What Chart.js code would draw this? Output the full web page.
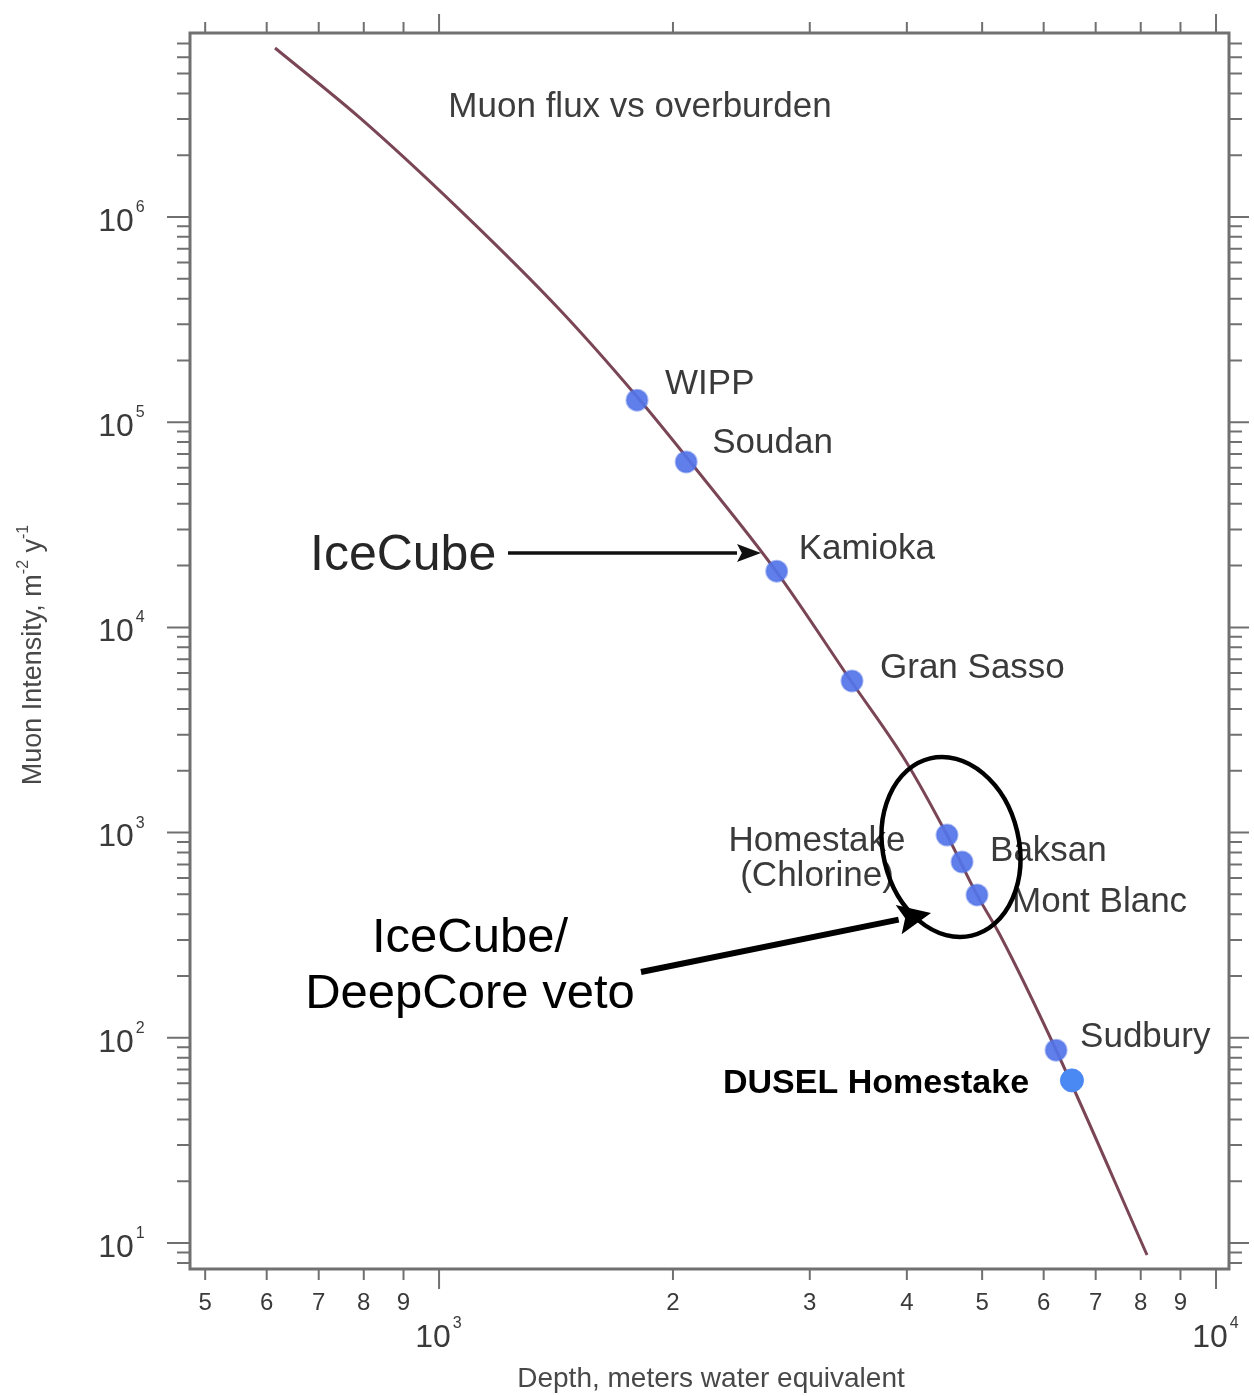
<!DOCTYPE html>
<html>
<head>
<meta charset="utf-8">
<script src="https://cdn.jsdelivr.net/npm/chart.js@4.4.1/dist/chart.umd.min.js"></script>
<style>
  body { margin: 0; background: #fff; }
  #wrap { width: 1254px; height: 1396px; }
</style>
</head>
<body>
<div id="wrap"><canvas id="chart" width="1254" height="1396"></canvas></div>
<script>
// Data (depth in m.w.e., flux in m^-2 y^-1)
const curveDepth = [615, 791, 1064, 1431, 1798, 2167, 2715, 3390, 3979, 4506, 4925, 5272, 6225, 8151];
const curveFlux  = [6.66e6, 3.04e6, 1.08e6, 3.52e5, 1.33e5, 5.59e4, 1.88e4, 5480, 2258, 973, 497, 317, 87.2, 8.74];

const siteNames = ["WIPP", "Soudan", "Kamioka", "Gran Sasso", "Homestake\n(Chlorine)", "Baksan", "Mont Blanc", "Sudbury"];
const siteDepth = [1798, 2080, 2720, 3400, 4506, 4711, 4925, 6225];
const siteFlux  = [1.28e5, 6.4e4, 1.88e4, 5480, 973, 719, 497, 87];

const duselName  = "DUSEL Homestake";
const duselDepth = [6525];
const duselFlux  = [62];

const xMinorTicks = [500, 600, 700, 800, 900, 2000, 3000, 4000, 5000, 6000, 7000, 8000, 9000];
const xMinorLabels = ["5", "6", "7", "8", "9", "2", "3", "4", "5", "6", "7", "8", "9"];
const xMajorTicks = [1000, 10000];
const xMajorExp = ["3", "4"];
const yMajorTicks = [10, 100, 1000, 1e4, 1e5, 1e6];
const yMajorExp = ["1", "2", "3", "4", "5", "6"];

// label offsets from each site marker (pixels)
const labelPos = [
  { dx: 28, dy: -16, align: "left" },
  { dx: 26, dy: -19, align: "left" },
  { dx: 22, dy: -22, align: "left" },
  { dx: 28, dy: -13, align: "left" },
  { dx: -130, dy: 6, align: "center" },
  { dx: 28, dy: -11, align: "left" },
  { dx: 35, dy: 7, align: "left" },
  { dx: 24, dy: -13, align: "left" }
];

function toPts(xs, ys) {
  return xs.map((x, i) => ({ x: x, y: ys[i] }));
}

function yMinorTicks() {
  let out = [];
  for (let k = 0; k <= 6; k++) {
    for (let m = 2; m <= 9; m++) out.push(m * Math.pow(10, k));
  }
  return out;
}

function drawPow(ctx, x, y, exp, size, supSize) {
  // "10" centred at x, exponent raised to the right
  ctx.font = size + "px 'Liberation Sans', Arial, sans-serif";
  ctx.textAlign = "center";
  ctx.textBaseline = "middle";
  ctx.fillText("10", x, y);
  let w = ctx.measureText("10").width;
  ctx.font = supSize + "px 'Liberation Sans', Arial, sans-serif";
  ctx.textAlign = "left";
  ctx.fillText(exp, x + w / 2 + 2, y - size * 0.45);
}

function arrow(ctx, x1, y1, x2, y2, lw, headLen, headW) {
  let ang = Math.atan2(y2 - y1, x2 - x1);
  let bx = x2 - headLen * Math.cos(ang), by = y2 - headLen * Math.sin(ang);
  ctx.lineWidth = lw;
  ctx.beginPath();
  ctx.moveTo(x1, y1);
  ctx.lineTo(bx, by);
  ctx.stroke();
  ctx.beginPath();
  ctx.moveTo(x2, y2);
  ctx.lineTo(bx + headW * Math.sin(ang), by - headW * Math.cos(ang));
  ctx.lineTo(bx + headLen * 0.2 * Math.cos(ang), by + headLen * 0.2 * Math.sin(ang));
  ctx.lineTo(bx - headW * Math.sin(ang), by + headW * Math.cos(ang));
  ctx.closePath();
  ctx.fill();
}

const decor = {
  id: "decor",
  beforeDraw(chart) {
    const ctx = chart.ctx;
    ctx.save();
    ctx.fillStyle = "#fff";
    ctx.fillRect(0, 0, chart.width, chart.height);
    ctx.restore();
  },
  afterDatasetsDraw(chart) {
    const ctx = chart.ctx;
    const meta = chart.getDatasetMeta(1);
    ctx.save();

    // site labels
    ctx.fillStyle = "#3a3a3a";
    ctx.font = "35px 'Liberation Sans', Arial, sans-serif";
    ctx.textBaseline = "middle";
    meta.data.forEach((pt, i) => {
      let p = labelPos[i];
      ctx.textAlign = p.align;
      siteNames[i].split("\n").forEach((line, j) => {
        ctx.fillText(line, pt.x + p.dx, pt.y + p.dy + j * 35);
      });
    });

    // DUSEL label with white box
    const d = chart.getDatasetMeta(0).data[0];
    ctx.fillStyle = "#fff";
    ctx.fillRect(d.x - 360, d.y - 20, 335, 44);
    ctx.fillStyle = "#000";
    ctx.font = "bold 34px 'Liberation Sans', Arial, sans-serif";
    ctx.textAlign = "left";
    ctx.fillText(duselName, d.x - 349, d.y + 3);

    // IceCube annotation
    ctx.fillStyle = "#262626";
    ctx.strokeStyle = "#111";
    ctx.font = "50px 'Liberation Sans', Arial, sans-serif";
    ctx.textAlign = "left";
    ctx.fillText("IceCube", 310, 556);
    ctx.fillStyle = "#111";
    arrow(ctx, 508, 553, 761, 553, 3.5, 24, 9);

    // IceCube/DeepCore veto annotation
    ctx.fillStyle = "#000";
    ctx.font = "49px 'Liberation Sans', Arial, sans-serif";
    ctx.textAlign = "center";
    ctx.fillText("IceCube/", 470, 938);
    ctx.fillText("DeepCore veto", 470, 994);
    ctx.strokeStyle = "#000";
    arrow(ctx, 641, 972, 931, 913, 6, 33, 15);

    ctx.lineWidth = 4.5;
    ctx.beginPath();
    ctx.ellipse(951, 847, 68, 91, -0.23, 0, Math.PI * 2);
    ctx.stroke();
    ctx.restore();
  },
  afterDraw(chart) {
    const ctx = chart.ctx;
    const a = chart.chartArea;
    const xs = chart.scales.x, ys = chart.scales.y;
    ctx.save();
    ctx.strokeStyle = "#707070";
    ctx.fillStyle = "#707070";

    // ticks
    ctx.lineWidth = 2;
    ctx.beginPath();
    xMinorTicks.forEach(v => {
      let x = xs.getPixelForValue(v);
      ctx.moveTo(x, a.top); ctx.lineTo(x, a.top - 11);
      ctx.moveTo(x, a.bottom); ctx.lineTo(x, a.bottom + 11);
    });
    xMajorTicks.forEach(v => {
      let x = xs.getPixelForValue(v);
      ctx.moveTo(x, a.top); ctx.lineTo(x, a.top - 19);
      ctx.moveTo(x, a.bottom); ctx.lineTo(x, a.bottom + 20);
    });
    yMinorTicks().forEach(v => {
      let y = ys.getPixelForValue(v);
      if (y < a.top || y > a.bottom) return;
      ctx.moveTo(a.left, y); ctx.lineTo(a.left - 13, y);
      ctx.moveTo(a.right, y); ctx.lineTo(a.right + 13, y);
    });
    yMajorTicks.forEach(v => {
      let y = ys.getPixelForValue(v);
      ctx.moveTo(a.left, y); ctx.lineTo(a.left - 23, y);
      ctx.moveTo(a.right, y); ctx.lineTo(a.right + 20, y);
    });
    ctx.stroke();

    // frame
    ctx.lineWidth = 3;
    ctx.strokeRect(a.left, a.top, a.right - a.left, a.bottom - a.top);

    // tick labels
    ctx.fillStyle = "#3a3a3a";
    ctx.font = "24px 'Liberation Sans', Arial, sans-serif";
    ctx.textAlign = "center";
    ctx.textBaseline = "middle";
    xMinorTicks.forEach((v, i) => {
      ctx.fillText(xMinorLabels[i], xs.getPixelForValue(v), a.bottom + 34);
    });
    xMajorTicks.forEach((v, i) => {
      drawPow(ctx, xs.getPixelForValue(v) - 6, a.bottom + 69, xMajorExp[i], 32, 16);
    });
    yMajorTicks.forEach((v, i) => {
      drawPow(ctx, 116, ys.getPixelForValue(v) + 5, yMajorExp[i], 32, 16);
    });

    // titles
    ctx.fillStyle = "#3d3d3d";
    ctx.font = "35px 'Liberation Sans', Arial, sans-serif";
    ctx.textAlign = "center";
    ctx.fillText("Muon flux vs overburden", 640, 107);

    ctx.fillStyle = "#484848";
    ctx.font = "28px 'Liberation Sans', Arial, sans-serif";
    ctx.fillText("Depth, meters water equivalent", 711, 1379);

    // rotated y title with superscripts
    ctx.translate(34, 655);
    ctx.rotate(-Math.PI / 2);
    const parts = [["Muon Intensity, m", 27, 0], ["-2", 16, -10], [" y", 27, 0], ["-1", 16, -10]];
    let total = 0;
    parts.forEach(p => {
      ctx.font = p[1] + "px 'Liberation Sans', Arial, sans-serif";
      total += ctx.measureText(p[0]).width;
    });
    let cx = -total / 2;
    ctx.textAlign = "left";
    parts.forEach(p => {
      ctx.font = p[1] + "px 'Liberation Sans', Arial, sans-serif";
      ctx.fillText(p[0], cx, p[2]);
      cx += ctx.measureText(p[0]).width;
    });
    ctx.restore();
  }
};

const ctx = document.getElementById("chart").getContext("2d");

const chart = new Chart(ctx, {
  type: "scatter",
  data: {
    datasets: [
      {
        label: duselName,
        data: toPts(duselDepth, duselFlux),
        backgroundColor: "#4a89f3",
        borderColor: "#4a89f3",
        pointRadius: 11.5,
        order: 1
      },
      {
        label: "Sites",
        data: toPts(siteDepth, siteFlux),
        backgroundColor: "rgba(82,116,232,0.92)",
        borderColor: "rgba(82,116,232,0.5)",
        borderWidth: 2,
        pointRadius: 10.5,
        order: 2
      },
      {
        label: "Muon flux",
        data: toPts(curveDepth, curveFlux),
        showLine: true,
        borderColor: "#7a4656",
        borderWidth: 3,
        pointRadius: 0,
        cubicInterpolationMode: "monotone",
        order: 3
      }
    ]
  },
  options: {
    responsive: false,
    animation: false,
    layout: { padding: { left: 190, top: 33, right: 25, bottom: 127 } },
    plugins: { legend: { display: false }, tooltip: { enabled: false } },
    scales: {
      x: { type: "logarithmic", min: 478, max: 10392, display: false },
      y: { type: "logarithmic", min: 7.47, max: 7.88e6, display: false }
    }
  },
  plugins: [decor]
});
</script>
</body>
</html>
